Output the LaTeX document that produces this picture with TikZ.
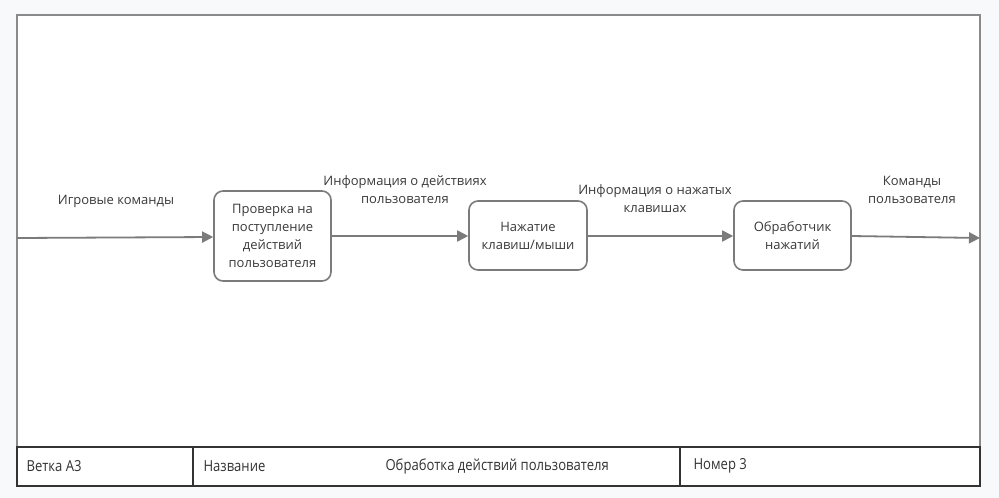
\documentclass[tikz,border=0pt]{standalone}
\usepackage{fontspec}
\setmainfont{Open Sans}
\newfontfamily\tablefont[FakeStretch=0.86]{Open Sans}
\usetikzlibrary{arrows.meta,positioning}

\definecolor{pagebg}{HTML}{F8F9FB}
\definecolor{framegray}{HTML}{8A8A8A}
\definecolor{linegray}{HTML}{7B7B7B}
\definecolor{textgray}{HTML}{3A3A3A}
\definecolor{tabledark}{HTML}{333333}

\begin{document}
\begin{tikzpicture}[x=1pt,y=-1pt,>={Triangle[length=11pt,width=11pt]},
  block/.style={draw=linegray,line width=1.6pt,rounded corners=9pt,fill=white,
    align=center,text=textgray,font=\fontsize{13}{18}\selectfont,inner sep=0pt},
  flow/.style={draw=linegray,line width=1.8pt,->},
  flowlabel/.style={align=center,text=textgray,font=\fontsize{13}{18}\selectfont},
  cell/.style={anchor=west,text=tabledark,font=\tablefont\fontsize{15.2}{18}\selectfont}]
  % Background and frame
  \fill[pagebg] (0,0) rectangle (999,498);
  \useasboundingbox (0,0) rectangle (999,498);
  \fill[white] (17,15) rectangle (980,486);
  \draw[framegray,line width=1.8pt] (17,447) -- (17,15) -- (980,15) -- (980,447);
  %
  % Process blocks
  \node[block,minimum width=117pt,minimum height=90pt] (check) at (272.5,236)
    {Проверка на\\поступление\\действий\\пользователя};
  \node[block,minimum width=118pt,minimum height=69pt] (press) at (528,235.5)
    {Нажатие\\клавиш/мыши};
  \node[block,minimum width=117pt,minimum height=69pt] (handler) at (792.5,235.5)
    {Обработчик\\нажатий};
  %
  % Free ends on the frame
  \coordinate (in) at (17,238);
  \coordinate (out) at (980,238);
  %
  % Flows
  \draw[flow] (in) -- (check.west |- 0,237);
  \draw[flow] (check.east |- 0,236) -- (press.west |- 0,236);
  \draw[flow] (press.east |- 0,236) -- (handler.west |- 0,236);
  \draw[flow] (handler.east |- 0,236) -- (out);
  %
  % Flow labels
  \node[flowlabel] (inlabel) at (116,201) {Игровые команды};
  \node[flowlabel] (actlabel) at (405,190) {Информация о действиях\\пользователя};
  \node[flowlabel] (keylabel) at (655,199) {Информация о нажатых\\клавишах};
  \node[flowlabel] (outlabel) at (912,190) {Команды\\пользователя};
  %
  % Title table
  \draw[tabledark,line width=1.8pt] (17,447) rectangle (980,486);
  \draw[tabledark,line width=1.4pt] (193,447) -- (193,486);
  \draw[tabledark,line width=1.4pt] (680,447) -- (680,486);
  \node[cell] (branch) at (23,466) {Ветка А3};
  \node[cell] (namekey) at (200,466) {Название};
  \node[cell] (nameval) at (382,466) {Обработка действий пользователя};
  \node[cell] (number) at (690,466) {Номер 3};
  %
\end{tikzpicture}
\end{document}
